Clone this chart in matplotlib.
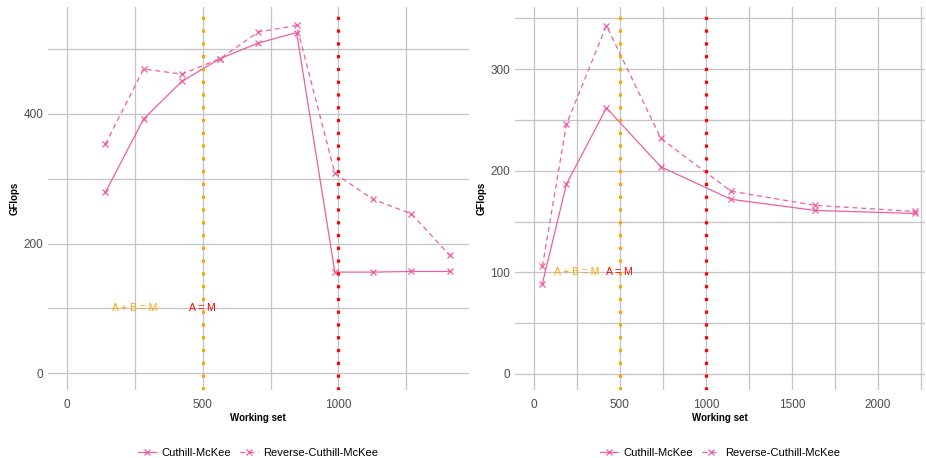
import numpy as np
import matplotlib.pyplot as plt
from matplotlib.ticker import MultipleLocator

plt.rcParams['font.family'] = ['Liberation Sans', 'DejaVu Sans']

# left panel
ws_left = [141, 282, 423, 564, 705, 846, 987, 1128, 1269, 1410]
cm_left = [279, 392, 450, 485, 509, 525, 156, 156, 157, 157]
rcm_left = [353, 469, 461, 485, 526, 536, 308, 268, 246, 182]

# right panel
ws_right = [50, 190, 422, 738, 1145, 1636, 2215]
cm_right = [89, 187, 262, 204, 172, 161, 158]
rcm_right = [106, 246, 343, 232, 180, 166, 160]

pink = '#ee5fa0'
grid_col = '#c4c4c4'


def panel(ax, ws, cm, rcm, xlim, ylim, xmaj, ymaj):
    ax.plot(ws, cm, color=pink, lw=0.9, marker='x', ms=4.5, mew=0.9,
            label='Cuthill-McKee')
    ax.plot(ws, rcm, color=pink, lw=0.9, ls=(0, (4, 3)), marker='x', ms=4.5,
            mew=0.9, label='Reverse-Cuthill-McKee')
    ax.axvline(500, color='orange', lw=2.3, ls=(0, (1, 3)),
               dash_capstyle='butt', zorder=3)
    ax.axvline(1000, color='red', lw=2.3, ls=(0, (1, 3)),
               dash_capstyle='butt', zorder=3)
    ax.text(250, 100, 'A + B = M', color='orange', ha='center', va='center',
            fontsize=7.5, zorder=4)
    ax.text(500, 100, 'A = M', color='red', ha='center', va='center',
            fontsize=7.5, zorder=4)
    ax.set_xlim(*xlim)
    ax.set_ylim(*ylim)
    ax.xaxis.set_major_locator(MultipleLocator(xmaj))
    ax.xaxis.set_minor_locator(MultipleLocator(xmaj / 2))
    ax.yaxis.set_major_locator(MultipleLocator(ymaj))
    ax.yaxis.set_minor_locator(MultipleLocator(ymaj / 2))
    ax.grid(which='both', color=grid_col, lw=0.9)
    ax.set_axisbelow(True)
    for s in ax.spines.values():
        s.set_visible(False)
    ax.tick_params(which='both', length=0, labelsize=8.5, labelcolor='#4d4d4d')
    ax.tick_params(axis='x', pad=6)
    ax.tick_params(axis='y', pad=3.5)
    ax.set_xlabel('Working set', fontsize=7, fontweight='bold', labelpad=2)
    ax.set_ylabel('GFlops', fontsize=7, fontweight='bold', labelpad=2.5)
    ax.legend(loc='upper center', bbox_to_anchor=(0.5, -0.125), ncol=2,
              frameon=False, fontsize=8, handlelength=1.6, columnspacing=0.8,
              handletextpad=0.5)


fig = plt.figure(figsize=(9.26, 4.58), dpi=100)
ax1 = fig.add_axes([0.052, 0.148, 0.454, 0.836])
ax2 = fig.add_axes([0.556, 0.148, 0.443, 0.836])

panel(ax1, ws_left, cm_left, rcm_left, (-70, 1480), (-26, 564), 500, 200)
panel(ax2, ws_right, cm_right, rcm_right, (-110, 2273), (-16, 361), 500, 100)

fig.savefig('out.png', dpi=100)
